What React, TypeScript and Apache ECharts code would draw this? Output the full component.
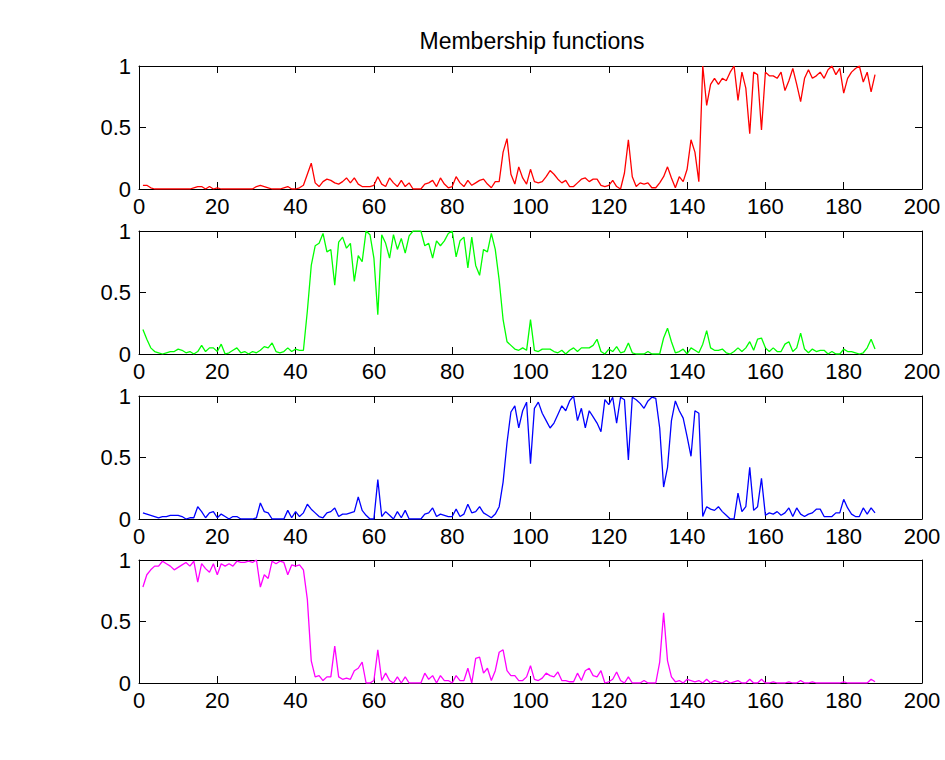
import React, { useEffect, useRef } from "react";
import * as echarts from "echarts";

const TITLE = "Membership functions";
const X_MIN = 0;
const X_MAX = 200;
const X_STEP = 20;
const Y_MIN = 0;
const Y_MAX = 1;
const Y_STEP = 0.5;

const redValues = [
  0.03, 0.03, 0.01, 0, 0, 0, 0, 0, 0, 0,
  0, 0, 0, 0.01, 0.02, 0.02, 0, 0.02, 0, 0.01,
  0, 0, 0, 0, 0, 0, 0, 0, 0, 0.02,
  0.03, 0.02, 0.01, 0, 0, 0, 0.01, 0.02, 0, 0,
  0.01, 0.03, 0.12, 0.21, 0.05, 0.02, 0.06, 0.08, 0.07, 0.05,
  0.04, 0.06, 0.09, 0.05, 0.09, 0.04, 0.02, 0.02, 0.02, 0.03,
  0.1, 0.04, 0.02, 0.09, 0.05, 0.02, 0.07, 0.02, 0.05, 0,
  0, 0, 0.04, 0.05, 0.07, 0.02, 0.09, 0.04, 0.01, 0.02,
  0.1, 0.05, 0.02, 0.07, 0.03, 0.05, 0.07, 0.08, 0.04, 0.01,
  0.06, 0.06, 0.3, 0.41, 0.12, 0.04, 0.18, 0.09, 0.04, 0.16,
  0.06, 0.05, 0.06, 0.1, 0.15, 0.12, 0.08, 0.05, 0.07, 0.02,
  0.02, 0.05, 0.08, 0.09, 0.06, 0.08, 0.08, 0.03, 0.02, 0.03,
  0.07, 0.02, 0, 0.13, 0.4, 0.1, 0.02, 0.05, 0.04, 0.05,
  0.01, 0.01, 0.05, 0.1, 0.18, 0.09, 0.01, 0.1, 0.06, 0.16,
  0.4, 0.3, 0.06, 1.0, 0.68, 0.85, 0.9, 0.85, 0.9, 0.88,
  0.95, 1.0, 0.72, 0.95, 0.82, 0.45, 0.95, 0.93, 0.48, 0.95,
  0.92, 0.92, 0.9, 0.95, 0.8, 0.88, 0.98, 0.85, 0.71, 0.9,
  0.97, 0.9, 0.92, 0.95, 0.9, 0.97, 1.0, 0.93, 0.98, 0.78,
  0.9, 0.95, 0.98, 1.0, 0.87, 0.95, 0.79, 0.93,
];

const greenValues = [
  0.2, 0.12, 0.05, 0.02, 0.01, 0, 0.01, 0.02, 0.02, 0.04,
  0.03, 0.01, 0.02, 0, 0.02, 0.07, 0.02, 0.05, 0.05, 0.02,
  0.08, 0, 0.01, 0.03, 0.05, 0.01, 0.02, 0, 0.02, 0.01,
  0.03, 0.06, 0.05, 0.09, 0.02, 0.01, 0.02, 0.05, 0.02, 0.04,
  0.03, 0.03, 0.35, 0.72, 0.88, 0.9, 0.98, 0.83, 0.85, 0.56,
  0.91, 0.95, 0.86, 0.9, 0.59, 0.8, 0.75, 1.0, 0.97, 0.78,
  0.32, 0.97, 0.9, 0.78, 0.97, 0.85, 0.94, 0.82, 0.96, 1.0,
  1.0, 1.0, 0.88, 0.9, 0.78, 0.92, 0.88, 0.92, 0.98, 1.0,
  0.79, 0.92, 0.95, 0.7, 0.95, 0.72, 0.64, 0.85, 0.83, 0.98,
  0.85, 0.6, 0.28, 0.1, 0.07, 0.04, 0.03, 0.05, 0.03, 0.28,
  0.03, 0.02, 0.04, 0.04, 0.04, 0.02, 0.01, 0.03, 0, 0.03,
  0.05, 0.02, 0.05, 0.05, 0.05, 0.07, 0.12, 0.02, 0, 0.04,
  0.02, 0.06, 0.01, 0.02, 0.09, 0.01, 0, 0, 0, 0.02,
  0, 0, 0, 0.13, 0.21, 0.1, 0.01, 0.02, 0.04, 0,
  0.05, 0.03, 0.01, 0.08, 0.19, 0.05, 0.03, 0.03, 0.04, 0.01,
  0, 0.02, 0.05, 0.02, 0.05, 0.1, 0.03, 0.12, 0.13, 0.05,
  0.02, 0.05, 0.02, 0.02, 0.08, 0.1, 0.02, 0.05, 0.17, 0.04,
  0.01, 0.04, 0.02, 0.03, 0.03, 0, 0.02, 0, 0, 0.04,
  0.02, 0.02, 0.01, 0, 0.01, 0.05, 0.12, 0.04,
];

const blueValues = [
  0.05, 0.04, 0.03, 0.02, 0.01, 0.02, 0.02, 0.03, 0.03, 0.03,
  0.02, 0, 0.01, 0.01, 0.1, 0.06, 0.01, 0.05, 0.06, 0.01,
  0.04, 0.02, 0, 0.02, 0.02, 0, 0, 0, 0, 0.01,
  0.13, 0.06, 0.05, 0, 0, 0, 0, 0.07, 0.01, 0.06,
  0.02, 0.05, 0.12, 0.08, 0.05, 0.02, 0.01, 0.05, 0.06, 0.09,
  0.02, 0.04, 0.04, 0.05, 0.06, 0.18, 0.07, 0.03, 0, 0,
  0.32, 0.02, 0.06, 0.03, 0, 0.06, 0.01, 0.07, 0, 0,
  0, 0, 0.04, 0.05, 0.09, 0.02, 0.04, 0.03, 0.02, 0.02,
  0.08, 0.02, 0.04, 0.12, 0.05, 0.06, 0.1, 0.05, 0.03, 0.01,
  0.04, 0.1, 0.3, 0.62, 0.87, 0.92, 0.74, 0.88, 0.95, 0.45,
  0.9, 0.95, 0.86, 0.8, 0.74, 0.78, 0.85, 0.92, 0.88, 0.96,
  1.0, 0.8, 0.9, 0.74, 0.88, 0.83, 0.78, 0.71, 0.97, 0.93,
  0.99, 0.78, 0.99, 0.97, 0.48, 0.99, 0.97, 0.94, 0.9, 0.96,
  0.99, 0.98, 0.74, 0.26, 0.42, 0.8, 0.96, 0.88, 0.82, 0.67,
  0.51, 0.88, 0.86, 0.02, 0.1, 0.08, 0.07, 0.1, 0.06, 0.03,
  0, 0, 0.21, 0.06, 0.1, 0.42, 0.07, 0.1, 0.33, 0.03,
  0.05, 0.04, 0.06, 0.03, 0.05, 0.09, 0.02, 0.09, 0.04, 0.02,
  0.04, 0.05, 0.08, 0.08, 0.02, 0.02, 0.02, 0.05, 0.05, 0.16,
  0.09, 0.04, 0.02, 0.02, 0.09, 0.04, 0.09, 0.05,
];

const magentaValues = [
  0.78, 0.88, 0.92, 0.95, 0.95, 0.99, 0.97, 0.95, 0.92, 0.94,
  0.96, 0.98, 0.95, 0.99, 0.82, 0.97, 0.93, 0.9, 0.97, 0.88,
  0.97, 0.95, 0.97, 0.95, 0.99, 0.98, 0.98, 0.99, 0.98, 1.0,
  0.78, 0.88, 0.85, 0.99, 0.97, 0.99, 0.98, 0.88, 0.96, 0.95,
  0.96, 0.92, 0.68, 0.18, 0.05, 0.06, 0.02, 0.05, 0.05, 0.3,
  0.05, 0.03, 0.04, 0.03, 0.1, 0.12, 0.17, 0, 0, 0.02,
  0.27, 0.02, 0.08, 0.02, 0, 0.05, 0, 0.05, 0, 0,
  0, 0, 0.08, 0.03, 0.06, 0, 0.06, 0.02, 0.02, 0,
  0.06, 0.02, 0.02, 0.12, 0, 0.2, 0.21, 0.08, 0.12, 0.02,
  0.1, 0.25, 0.27, 0.1, 0.06, 0.06, 0.02, 0.02, 0.05, 0.14,
  0.03, 0.02, 0.04, 0.08, 0.06, 0.05, 0.09, 0.02, 0.02, 0.01,
  0.01, 0.08, 0.02, 0.1, 0.12, 0.06, 0.05, 0.1, 0, 0.01,
  0.03, 0.09, 0.02, 0, 0.05, 0, 0, 0, 0.02, 0,
  0, 0, 0.17, 0.57, 0.18, 0.05, 0.01, 0.02, 0, 0.03,
  0.02, 0.01, 0.02, 0, 0.03, 0, 0.02, 0.01, 0, 0.02,
  0, 0.01, 0.02, 0, 0, 0.03, 0, 0, 0.03, 0,
  0, 0.01, 0, 0, 0, 0.01, 0, 0, 0.02, 0,
  0, 0.01, 0, 0, 0, 0, 0, 0, 0, 0.01,
  0, 0, 0, 0, 0, 0, 0.03, 0.01,
];

const seriesList = [
  { name: "red", color: "#ff0000", values: redValues },
  { name: "green", color: "#00ff00", values: greenValues },
  { name: "blue", color: "#0000ff", values: blueValues },
  { name: "magenta", color: "#ff00ff", values: magentaValues },
];

const FONT = "'Liberation Sans', Arial, Helvetica, sans-serif";
const GRID_TOPS = [66, 231, 396, 560];
const GRID_HEIGHT = 123;

export default function App() {
  const ref = useRef<HTMLDivElement>(null);

  useEffect(() => {
    if (!ref.current) return;
    const chart = echarts.init(ref.current, null, { renderer: "svg" });

    const lineStyle = { color: "#000", width: 1 };
    const grid: any[] = [];
    const xAxis: any[] = [];
    const yAxis: any[] = [];
    const series: any[] = [];

    seriesList.forEach((s, i) => {
      grid.push({ left: 139, right: 23, top: GRID_TOPS[i], height: GRID_HEIGHT });
      const xBase = {
        gridIndex: i,
        type: "value",
        min: X_MIN,
        max: X_MAX,
        interval: X_STEP,
        splitLine: { show: false },
        axisLine: { show: true, onZero: false, lineStyle },
        axisTick: { show: true, inside: true, length: 7, lineStyle },
      };
      xAxis.push({
        ...xBase,
        position: "bottom",
        axisLabel: { color: "#000", fontSize: 22, fontFamily: FONT, margin: 6 },
      });
      xAxis.push({ ...xBase, position: "top", axisLabel: { show: false } });
      const yBase = {
        gridIndex: i,
        type: "value",
        min: Y_MIN,
        max: Y_MAX,
        interval: Y_STEP,
        splitLine: { show: false },
        axisLine: { show: true, onZero: false, lineStyle },
        axisTick: { show: true, inside: true, length: 7, lineStyle },
      };
      yAxis.push({
        ...yBase,
        position: "left",
        axisLabel: { color: "#000", fontSize: 22, fontFamily: FONT, margin: 8 },
      });
      yAxis.push({ ...yBase, position: "right", axisLabel: { show: false } });

      series.push({
        name: s.name,
        type: "line",
        xAxisIndex: i * 2,
        yAxisIndex: i * 2,
        data: s.values.map((v, j) => [j + 1, v]),
        showSymbol: false,
        symbol: "none",
        silent: true,
        lineStyle: { color: s.color, width: 1.3 },
        itemStyle: { color: s.color },
      });
    });

    chart.setOption({
      animation: false,
      backgroundColor: "#ffffff",
      title: {
        text: TITLE,
        left: 527,
        textAlign: "center",
        top: 24,
        textStyle: { color: "#000", fontSize: 23, fontWeight: "normal", fontFamily: FONT },
      },
      grid,
      xAxis,
      yAxis,
      series,
    });

    return () => chart.dispose();
  }, []);

  return (
    <div
      ref={ref}
      style={{ position: "fixed", left: 0, top: 0, width: 945, height: 760 }}
    />
  );
}
